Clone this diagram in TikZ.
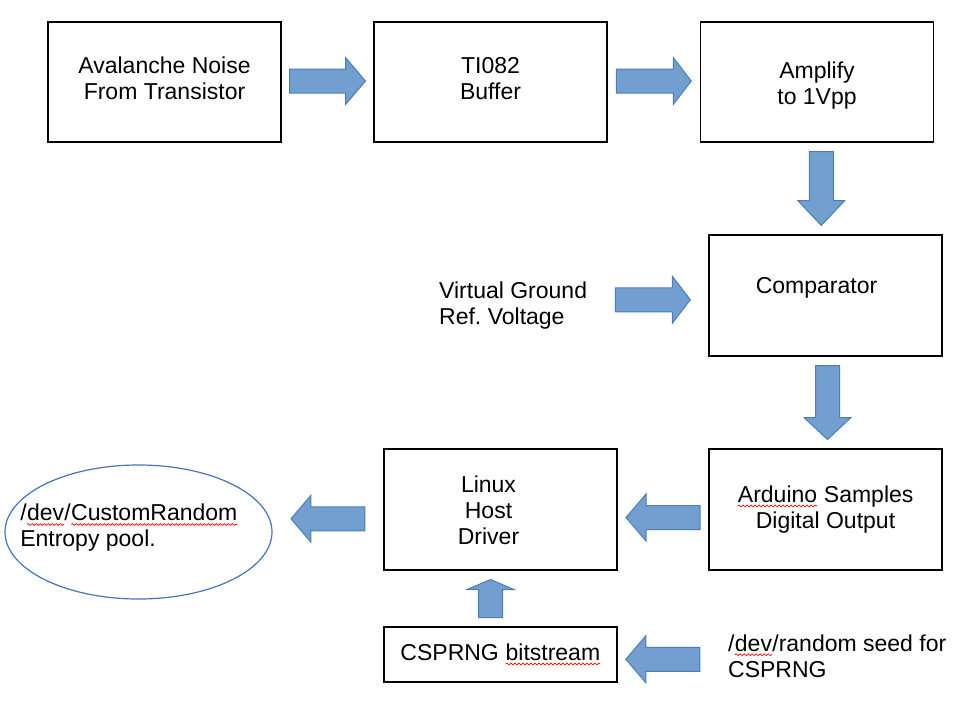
\documentclass[tikz,border=0pt]{standalone}
\usepackage{fontspec}
\setmainfont{Liberation Sans}
\usetikzlibrary{shapes.geometric, calc, decorations.pathmorphing}

\definecolor{arrowfill}{HTML}{729FCF}
\definecolor{arrowedge}{HTML}{4A7EBB}
\definecolor{poolblue}{HTML}{4472C4}

% red spell-check squiggle under a word
\newcommand{\wavy}[1]{\tikz[baseline=(w.base)]{\node[draw=none, fill=none, rectangle, inner sep=0pt, outer sep=0pt, minimum size=0pt, anchor=base] (w) {#1};
  \draw[red, line width=0.7pt, decorate, decoration={snake, amplitude=0.9pt, segment length=4pt}] ([yshift=-3.5pt]w.base west) -- ([yshift=-3.5pt]w.base east);}}

\begin{document}
\begin{tikzpicture}[
    x=1pt, y=-1pt,
    font=\fontsize{23}{26}\selectfont,
    box/.style={rectangle, draw=black, line width=1.3pt, minimum width=233pt, minimum height=120pt, align=center, inner sep=0pt},
    plain/.style={align=left, inner sep=4pt},
    arrowbody/.style={fill=arrowfill, draw=arrowedge, line width=1pt, line join=miter},
    pics/blockarrow/.style 2 args={code={
        \draw[arrowbody] (-#1/2,-12) -- (#1/2-#2,-12) -- (#1/2-#2,-23.5) -- (#1/2,0)
            -- (#1/2-#2,23.5) -- (#1/2-#2,12) -- (-#1/2,12) -- cycle;
    }}
]
    \useasboundingbox (0,0) rectangle (974,707);

    % Top row
    \node[box] (avalanche) at (164.5,82) {Avalanche Noise\\From Transistor\strut};
    \node[box] (buffer) at (490.5,82) {TI082\\Buffer\strut};
    \node[box] (amplify) at (817,82) {\raisebox{-4pt}[\height][\depth]{\begin{tabular}{@{}c@{}}Amplify\\to 1Vpp\end{tabular}}};

    % Comparator and reference
    \node[box, minimum height=121pt] (comparator) at (825.5,295.5) {Comparator\hspace*{18pt}\\[-6pt]\mbox{}};
    \node[plain, anchor=west] (vground) at (435,306) {Virtual Ground\\Ref.\ Voltage};

    % Bottom row
    \node[box, minimum height=121pt] (arduino) at (825.5,509.5) {\wavy{Arduino} Samples\\Digital Output};
    \node[box, minimum height=121pt] (linux) at (500.5,509.5) {\raisebox{-4pt}[\height][\depth]{\begin{tabular}{@{}c@{}}Linux\\Host\\Driver\end{tabular}}\hspace*{24pt}};
    \node[ellipse, draw=poolblue, line width=1.2pt, minimum width=267pt, minimum height=134pt, inner sep=0pt] (pool) at (138.5,532) {};
    \node[plain] (pooltext) at (129,528) {/\wavy{dev}/\wavy{CustomRandom}\\Entropy pool.};

    % Seed chain
    \node[box, minimum height=55pt] (csprng) at (500.5,654.5) {CSPRNG \wavy{bitstream}};
    \node[plain, anchor=west] (seed) at (724,656) {/\wavy{dev}/random seed for\\CSPRNG};

    % Block arrows
    \pic at ($(avalanche.east)!0.5!(buffer.west)+(0,-1)$) {blockarrow={76}{20}};
    \pic at ($(buffer.east)!0.5!(amplify.west)+(0,-1)$) {blockarrow={75}{18}};
    \pic[rotate=-90] at ($(amplify.south)!0.5!(comparator.north)$) {blockarrow={74}{25}};
    \pic at ($(vground.east)!0.5!(comparator.west)+(3,-1)$) {blockarrow={75}{18}};
    \pic[rotate=-90] at ($(comparator.south)!0.5!(arduino.north)+(2,0)$) {blockarrow={74}{22}};
    \pic[rotate=180] at ($(arduino.west)!0.5!(linux.east)+(0,8)$) {blockarrow={74}{20}};
    \pic[rotate=180] at ($(linux.west)!0.5!(pool.east)+(0,-2)$) {blockarrow={74}{20}};
    \pic[rotate=90] at ($(csprng.north)!0.5!(linux.south)+(-10,0)$) {blockarrow={38}{10}};
    \pic[rotate=180] at ($(seed.west)!0.5!(csprng.east)+(-8,4)$) {blockarrow={74}{20}};
\end{tikzpicture}
\end{document}
